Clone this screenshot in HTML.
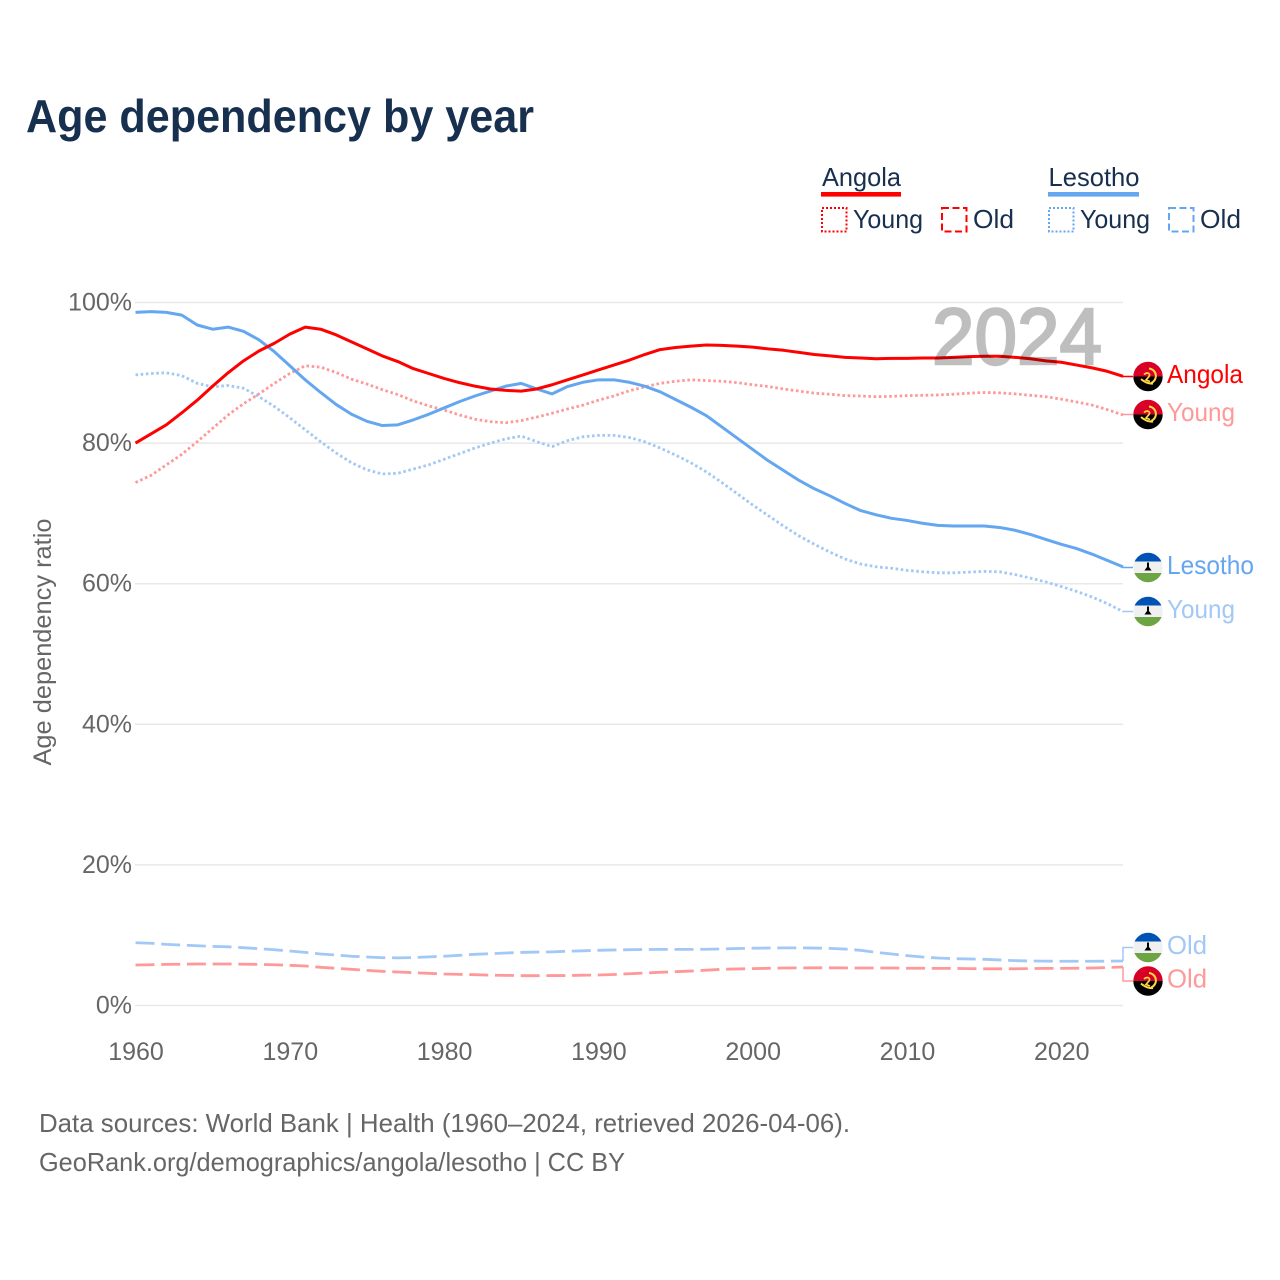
<!DOCTYPE html>
<html lang="en">
<head>
<meta charset="utf-8">
<title>Age dependency by year</title>
<style>
  html, body { margin: 0; padding: 0; background: #fff; }
  svg { display: block; font-family: "Liberation Sans", sans-serif; }
</style>
</head>
<body>
<svg id="chart" xmlns="http://www.w3.org/2000/svg" width="1280" height="1280" viewBox="0 0 1280 1280">
  <defs>
    <clipPath id="flag-clip"><circle cx="0" cy="0" r="14.7"/></clipPath>
    <g id="flag-angola" clip-path="url(#flag-clip)">
      <rect x="-15" y="-15" width="30" height="15" fill="#d80027"/>
      <rect x="-15" y="0" width="30" height="15" fill="#000"/>
      <path d="M1,-8 A7.5,7.5 0 0 1 3,6.5" fill="none" stroke="#ffda44" stroke-width="2"/>
      <path d="M-7,2.5 C-3,6 1,7.5 5,7" fill="none" stroke="#ffda44" stroke-width="2"/>
      <path d="M-4,-2 C-1,-5 3,-3 1,0 L-2,3.5 L2,5" fill="none" stroke="#ffda44" stroke-width="1.7"/>
    </g>
    <g id="flag-lesotho" clip-path="url(#flag-clip)">
      <rect x="-15" y="-15" width="30" height="30" fill="#f0f0f0"/>
      <rect x="-15" y="-15" width="30" height="9" fill="#0052b4"/>
      <rect x="-15" y="5.5" width="30" height="10" fill="#6da544"/>
      <path d="M-1,-5 H1 V-0.5 L3.6,3 H-3.6 L-1,-0.5 Z" fill="#000"/>
    </g>
  </defs>

  <text x="26" y="132" font-size="46" font-weight="700" fill="#17304f" textLength="508" lengthAdjust="spacingAndGlyphs">Age dependency by year</text>

  <g font-size="26" fill="#17304f">
    <text x="822" y="186" textLength="79" lengthAdjust="spacingAndGlyphs">Angola</text>
    <rect x="821" y="192" width="80" height="4.6" fill="#ff0000"/>
    <rect x="822" y="208" width="24.5" height="23.5" fill="none" stroke="#ff0000" stroke-width="2" stroke-dasharray="2 2"/>
    <text x="853" y="228" textLength="70" lengthAdjust="spacingAndGlyphs">Young</text>
    <rect x="942" y="208" width="24.5" height="23.5" fill="none" stroke="#ff0000" stroke-width="2" stroke-dasharray="7 3.5"/>
    <text x="973" y="228" textLength="41" lengthAdjust="spacingAndGlyphs">Old</text>

    <text x="1048.5" y="186" textLength="91" lengthAdjust="spacingAndGlyphs">Lesotho</text>
    <rect x="1048" y="192" width="91" height="4.6" fill="#64a7f0"/>
    <rect x="1049" y="208" width="24.5" height="23.5" fill="none" stroke="#64a7f0" stroke-width="2" stroke-dasharray="2 2"/>
    <text x="1080" y="228" textLength="70" lengthAdjust="spacingAndGlyphs">Young</text>
    <rect x="1169" y="208" width="24.5" height="23.5" fill="none" stroke="#64a7f0" stroke-width="2" stroke-dasharray="7 3.5"/>
    <text x="1200" y="228" textLength="41" lengthAdjust="spacingAndGlyphs">Old</text>
  </g>

  <g id="grid"></g>
  <g id="ytick-labels"></g>
  <g id="xtick-labels"></g>
  <text transform="translate(51,642) rotate(-90)" text-anchor="middle" font-size="25" fill="#666" textLength="247" lengthAdjust="spacingAndGlyphs">Age dependency ratio</text>

  <g id="series"></g>

  <text x="932" y="364" font-size="80" fill="#000" stroke="#000" stroke-width="2.4" opacity="0.25" textLength="170" lengthAdjust="spacingAndGlyphs">2024</text>

  <g id="end-labels"></g>

  <g font-size="26" fill="#666">
    <text x="39" y="1132" textLength="811" lengthAdjust="spacingAndGlyphs">Data sources: World Bank | Health (1960–2024, retrieved 2026-04-06).</text>
    <text x="39" y="1171" textLength="586" lengthAdjust="spacingAndGlyphs">GeoRank.org/demographics/angola/lesotho | CC BY</text>
  </g>
</svg>

<script>
const startYear = 1960;
const xTickYears = [1960, 1970, 1980, 1990, 2000, 2010, 2020];
const yTickValues = [0, 20, 40, 60, 80, 100];

const angolaTotal = [80.0,81.3,82.6,84.3,86.1,88.1,90.0,91.7,93.1,94.2,95.5,96.5,96.2,95.4,94.4,93.4,92.4,91.6,90.6,89.9,89.2,88.6,88.1,87.7,87.5,87.4,87.7,88.3,89.0,89.7,90.4,91.1,91.8,92.6,93.3,93.6,93.8,93.95,93.9,93.8,93.65,93.4,93.2,92.9,92.6,92.4,92.2,92.1,92.0,92.05,92.05,92.1,92.1,92.2,92.3,92.35,92.35,92.2,92.0,91.7,91.5,91.1,90.7,90.2,89.5];
const angolaYoung = [74.4,75.4,76.9,78.4,80.2,82.1,84.0,85.6,87.0,88.5,89.9,91.0,90.8,90.05,89.1,88.4,87.6,86.9,86.0,85.3,84.7,84.0,83.4,83.05,82.9,83.2,83.7,84.25,84.85,85.4,86.1,86.7,87.45,88.0,88.5,88.8,89.0,88.9,88.8,88.6,88.3,88.05,87.7,87.4,87.1,86.95,86.75,86.7,86.6,86.65,86.75,86.8,86.85,86.95,87.1,87.2,87.15,87.0,86.8,86.6,86.25,85.85,85.4,84.75,84.0];
const angolaOld = [5.76,5.8,5.85,5.87,5.9,5.9,5.9,5.87,5.85,5.8,5.72,5.62,5.43,5.29,5.15,5.0,4.86,4.77,4.67,4.58,4.48,4.43,4.38,4.31,4.29,4.24,4.24,4.26,4.26,4.31,4.34,4.41,4.52,4.62,4.72,4.81,4.9,5.02,5.15,5.2,5.24,5.29,5.33,5.35,5.36,5.36,5.35,5.33,5.33,5.33,5.3,5.3,5.28,5.28,5.25,5.22,5.22,5.22,5.25,5.28,5.28,5.3,5.33,5.4,5.48];
const lesothoTotal = [98.6,98.7,98.6,98.2,96.8,96.2,96.5,95.9,94.7,93.0,91.0,89.0,87.2,85.5,84.1,83.1,82.5,82.6,83.3,84.1,85.0,85.9,86.7,87.4,88.1,88.5,87.7,87.0,88.05,88.65,89.0,89.0,88.65,88.1,87.3,86.2,85.1,83.9,82.3,80.7,79.1,77.5,76.1,74.7,73.5,72.5,71.4,70.4,69.8,69.3,69.0,68.6,68.3,68.2,68.2,68.2,68.0,67.6,67.0,66.3,65.6,65.0,64.2,63.3,62.4];
const lesothoYoung = [89.7,89.9,90.0,89.6,88.5,88.0,88.2,87.8,86.6,85.2,83.6,81.9,80.2,78.6,77.2,76.2,75.6,75.7,76.3,76.9,77.7,78.5,79.3,80.0,80.6,81.0,80.2,79.5,80.35,80.9,81.1,81.1,80.8,80.2,79.3,78.3,77.2,75.9,74.4,72.8,71.2,69.7,68.2,66.8,65.6,64.5,63.5,62.8,62.4,62.2,61.9,61.7,61.55,61.55,61.65,61.75,61.7,61.3,60.8,60.25,59.6,58.9,58.1,57.15,56.05];
const lesothoOld = [8.93,8.85,8.7,8.6,8.5,8.41,8.35,8.22,8.08,7.93,7.75,7.56,7.33,7.18,7.0,6.9,6.8,6.78,6.82,6.92,7.0,7.14,7.28,7.37,7.47,7.55,7.6,7.63,7.72,7.78,7.85,7.9,7.94,7.96,7.98,7.98,7.98,8.0,8.05,8.1,8.15,8.17,8.2,8.2,8.17,8.13,8.03,7.85,7.56,7.33,7.1,6.9,6.76,6.67,6.62,6.57,6.48,6.38,6.33,6.31,6.29,6.29,6.29,6.31,6.33];

const SVG_NS = 'http://www.w3.org/2000/svg';

function xScale(year) {
  return 135.5 + (year - 1960) * (1123 - 135.5) / 64;
}
function yScale(value) {
  return 1005.5 - value * (1005.5 - 302.5) / 100;
}
function make(tag, attrs, parent) {
  const el = document.createElementNS(SVG_NS, tag);
  for (const key in attrs) el.setAttribute(key, attrs[key]);
  parent.appendChild(el);
  return el;
}

const gridGroup = document.getElementById('grid');
const yTickGroup = document.getElementById('ytick-labels');
const xTickGroup = document.getElementById('xtick-labels');
const seriesGroup = document.getElementById('series');
const endGroup = document.getElementById('end-labels');

yTickValues.forEach(function (value) {
  const line = make('line', { x1: 135, x2: 1123, y1: yScale(value), y2: yScale(value), stroke: '#e8e8e8', 'stroke-width': 1.5 }, gridGroup);
  
  
  const label = make('text', { x: 132, y: yScale(value) + 8, 'text-anchor': 'end', 'font-size': 25, fill: '#666' }, yTickGroup);
  
  
  label.textContent = value + '%';
});

xTickYears.forEach(function (year) {
  const label = make('text', { x: xScale(year) + 0.5, y: 1060, 'text-anchor': 'middle', 'font-size': 25, fill: '#666' }, xTickGroup);
  
  
  label.textContent = year;
});

function drawSeries(name, values, color, width, dash) {
  const d = values.map(function (v, i) {
    return (i === 0 ? 'M' : 'L') + xScale(startYear + i).toFixed(2) + ',' + yScale(v).toFixed(2);
  }).join(' ');
  const attrs = { d: d, fill: 'none', stroke: color, 'stroke-width': width, 'stroke-linejoin': 'round' };
  if (dash) attrs['stroke-dasharray'] = dash;
  const path = make('path', attrs, seriesGroup);
  
  
}

function drawEndLabel(name, values, color, flagId, text, labelY, textWidth) {
  const last = values[values.length - 1];
  const xEnd = xScale(startYear + values.length - 1);
  const connector = make('path', {
    d: 'M' + xEnd + ',' + yScale(last).toFixed(2) + ' V' + labelY + ' H1133',
    fill: 'none', stroke: color, 'stroke-width': 1.5
  }, endGroup);
  
  
  const flag = make('use', { href: '#' + flagId, transform: 'translate(1148,' + labelY + ')' }, endGroup);
  
  
  const label = make('text', {
    x: 1167, y: labelY + 6.5, 'font-size': 26, fill: color,
    textLength: textWidth, lengthAdjust: 'spacingAndGlyphs'
  }, endGroup);
  
  
  label.textContent = text;
}

const RED = '#ff0000', BLUE = '#64a7f0', LIGHT_RED = '#ff9999', LIGHT_BLUE = '#a2c8f5';

drawSeries('lesotho-old', lesothoOld, LIGHT_BLUE, 2.8, '19 6.7');
drawSeries('angola-old', angolaOld, LIGHT_RED, 2.8, '19 6.7');
drawSeries('lesotho-young', lesothoYoung, LIGHT_BLUE, 2.8, '2.6 2.6');
drawSeries('angola-young', angolaYoung, LIGHT_RED, 2.8, '2.6 2.6');
drawSeries('lesotho-total', lesothoTotal, BLUE, 3, null);
drawSeries('angola-total', angolaTotal, RED, 3, null);

drawEndLabel('angola-total', angolaTotal, RED, 'flag-angola', 'Angola', 376.5, 76);
drawEndLabel('angola-young', angolaYoung, LIGHT_RED, 'flag-angola', 'Young', 414.5, 68);
drawEndLabel('lesotho-total', lesothoTotal, BLUE, 'flag-lesotho', 'Lesotho', 567.5, 87);
drawEndLabel('lesotho-young', lesothoYoung, LIGHT_BLUE, 'flag-lesotho', 'Young', 611.5, 68);
drawEndLabel('lesotho-old', lesothoOld, LIGHT_BLUE, 'flag-lesotho', 'Old', 947.5, 40);
drawEndLabel('angola-old', angolaOld, LIGHT_RED, 'flag-angola', 'Old', 981, 40);
</script>
</body>
</html>
